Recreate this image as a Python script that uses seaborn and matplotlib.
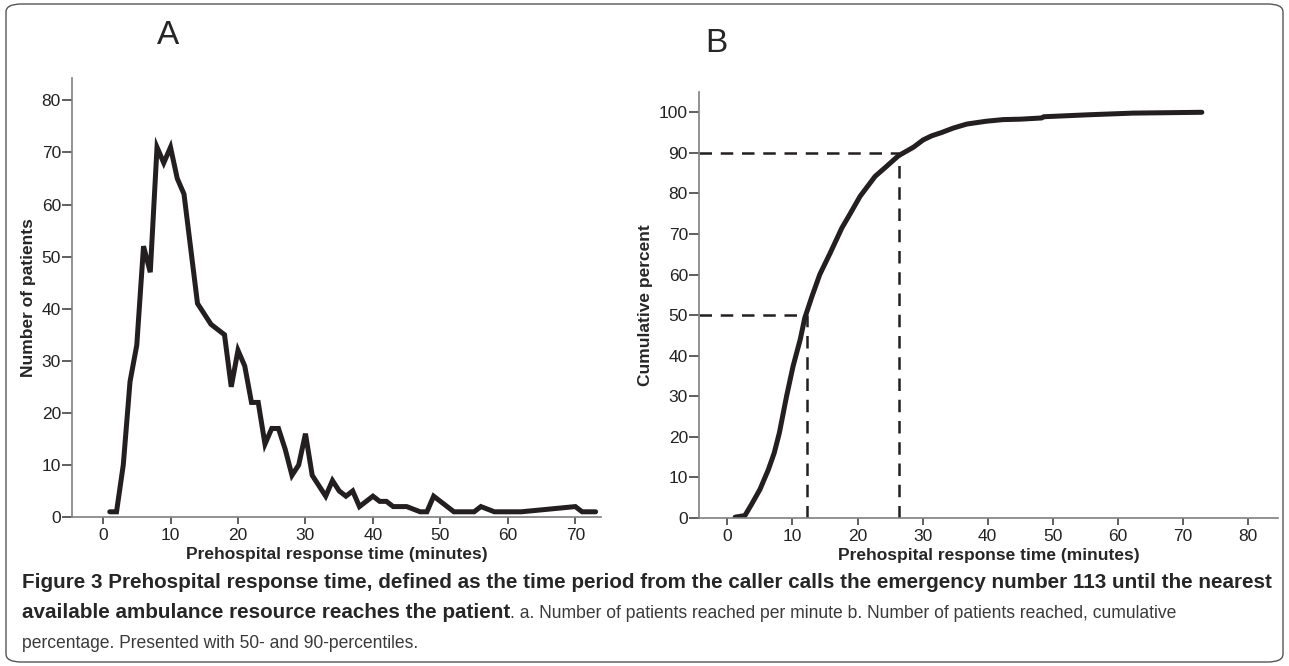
"""
Figure 3: prehospital response time.
A = patients reached per minute, B = cumulative percent with 50/90 percentiles.
"""
import matplotlib
matplotlib.use("Agg")
import matplotlib.pyplot as plt
from matplotlib import font_manager
from matplotlib.patches import FancyBboxPatch
import pandas as pd
import seaborn as sns

# -----------------------------
# Data
# -----------------------------
minutes_a = [1, 2, 3, 4, 5, 6, 7, 8, 9, 10, 11, 12, 14, 16, 18, 19, 20, 21,
             22, 23, 24, 25, 26, 27, 28, 29, 30, 31, 33, 34, 35, 36, 37, 38,
             39, 40, 41, 42, 43, 45, 47, 48, 49, 52, 55, 56, 58, 62, 70, 71, 73]
patients_a = [1, 1, 10, 26, 33, 52, 47, 71, 68, 71, 65, 62, 41, 37, 35, 25, 32, 29,
              22, 22, 14, 17, 17, 13, 8, 10, 16, 8, 4, 7, 5, 4, 5, 2,
              3, 4, 3, 3, 2, 2, 1, 1, 4, 1, 1, 2, 1, 1, 2, 1, 1]

minutes_b = [1.2, 2.7, 3.7, 5.0, 6.3, 7.2, 8.0, 9.1, 10.1, 11.2, 11.9, 13.0, 14.2,
             15.8, 17.6, 18.8, 20.4, 22.7, 24.2, 26.3, 28.6, 30.1, 31.4, 32.9,
             34.7, 36.8, 39.8, 42.4, 45.0, 48.3, 48.6, 55.7, 62.4, 72.9]
cum_pct_b = [0.2, 0.6, 3.3, 7.0, 11.9, 16.0, 21.0, 30.0, 37.4, 44.0, 49.3, 54.6, 60.0,
             65.3, 71.5, 74.8, 79.3, 84.2, 86.3, 89.3, 91.4, 93.2, 94.2, 95.0,
             96.1, 97.1, 97.8, 98.2, 98.3, 98.6, 98.9, 99.4, 99.8, 100.0]

percentiles = [50, 90]
percentile_minutes = [12.2, 26.3]

yticks_a = list(range(0, 81, 10))
xticks_a = list(range(0, 71, 10))
yticks_b = list(range(0, 101, 10))
xticks_b = list(range(0, 81, 10))

caption_l1 = ("Figure 3 Prehospital response time, defined as the time period from the "
              "caller calls the emergency number 113 until the nearest")
caption_l2_bold = "available ambulance resource reaches the patient"
caption_l2_rest = (". a. Number of patients reached per minute b. Number of patients "
                   "reached, cumulative")
caption_l3 = "percentage. Presented with 50- and 90-percentiles."

# -----------------------------
# Style
# -----------------------------
sns.set_style("ticks")
installed = {f.name for f in font_manager.fontManager.ttflist}
NARROW = "Liberation Sans Narrow" if "Liberation Sans Narrow" in installed else "Liberation Sans"
plt.rcParams["font.family"] = ["Liberation Sans", "DejaVu Sans"]

LINE = "#231f20"
SPINE = "#7f7f7f"
CAP_GREY = "#3a3a3a"

W, H = 1289, 666
fig = plt.figure(figsize=(W / 100, H / 100), dpi=100)


def px_axes(x0, y_top, x1, y_bot):
    return fig.add_axes([x0 / W, 1 - y_bot / H, (x1 - x0) / W, (y_bot - y_top) / H])


def style_axes(ax, xlabel, ylabel):
    sns.despine(ax=ax)
    for s in ("left", "bottom"):
        ax.spines[s].set_color(SPINE)
        ax.spines[s].set_linewidth(1.2)
    ax.tick_params(axis="y", length=7, width=1.1, color="#333333", labelsize=12.5,
                   pad=1, labelcolor="#222222")
    ax.tick_params(axis="x", length=5, width=1.1, color="#333333", labelsize=12.5,
                   pad=3, labelcolor="#222222")
    ax.set_xlabel(xlabel, family=NARROW, fontweight="bold", fontsize=12.5, labelpad=3)
    ax.set_ylabel(ylabel, family=NARROW, fontweight="bold", fontsize=12.5, labelpad=4)
    ax.grid(False)


# -----------------------------
# Panel A
# -----------------------------
ax_a = px_axes(72, 78, 601, 517)
df_a = pd.DataFrame({"minutes": minutes_a, "patients": patients_a})
sns.lineplot(data=df_a, x="minutes", y="patients", ax=ax_a, color=LINE,
             linewidth=3.6, solid_joinstyle="miter")
ax_a.set_xlim(-4.6, 73.8)
ax_a.set_ylim(0, 84.3)
ax_a.set_xticks(xticks_a)
ax_a.set_yticks(yticks_a)
style_axes(ax_a, "Prehospital response time (minutes)", "Number of patients")

# -----------------------------
# Panel B
# -----------------------------
ax_b = px_axes(699, 92, 1278, 518)
df_b = pd.DataFrame({"minutes": minutes_b, "cumulative": cum_pct_b})
sns.lineplot(data=df_b, x="minutes", y="cumulative", ax=ax_b, color=LINE,
             linewidth=3.6)
ax_b.set_xlim(-4.35, 84.6)
ax_b.set_ylim(0, 105)
for pct, mins in zip(percentiles, percentile_minutes):
    ax_b.plot([ax_b.get_xlim()[0], mins], [pct, pct], color=LINE, lw=1.8,
              dashes=(5, 3.5), zorder=1)
    ax_b.plot([mins, mins], [0, pct], color=LINE, lw=1.8, dashes=(5, 3.5), zorder=1)
ax_b.set_xticks(xticks_b)
ax_b.set_yticks(yticks_b)
style_axes(ax_b, "Prehospital response time (minutes)", "Cumulative percent")

# panel letters
fig.text(168 / W, 1 - 36 / H, "A", ha="center", va="center", fontsize=24)
fig.text(716 / W, 1 - 43 / H, "B", ha="center", va="center", fontsize=24)

# -----------------------------
# Caption (sizes fitted to the reference line widths)
# -----------------------------
r = fig.canvas.get_renderer()
cap_size = 14
t1 = fig.text(22 / W, 1 - 583 / H, caption_l1, family=NARROW, fontweight="bold",
              fontsize=cap_size, va="center", ha="left")
w1 = t1.get_window_extent(r).width
cap_size = cap_size * (1250 / w1)
t1.set_fontsize(cap_size)

t2 = fig.text(22 / W, 1 - 613 / H, caption_l2_bold, family=NARROW, fontweight="bold",
              fontsize=cap_size, va="center", ha="left")
x_end = t2.get_window_extent(r).x1

reg_size = 14
t2b = fig.text(x_end / W, 1 - 613 / H, caption_l2_rest, family=NARROW,
               fontsize=reg_size, va="center", ha="left", color=CAP_GREY)
w2 = t2b.get_window_extent(r).width
reg_size = reg_size * ((1182 - x_end) / w2)
t2b.set_fontsize(reg_size)
fig.text(22 / W, 1 - 643 / H, caption_l3, family=NARROW, fontsize=reg_size,
         va="center", ha="left", color=CAP_GREY)

# rounded frame around the figure
frame = FancyBboxPatch((6 / W, 4 / H), (W - 12) / W, (H - 8) / H,
                       boxstyle="round,pad=0,rounding_size=0.012",
                       transform=fig.transFigure, fill=False,
                       edgecolor="#555555", linewidth=1.0)
fig.patches.append(frame)

fig.savefig("out.png", dpi=100)
